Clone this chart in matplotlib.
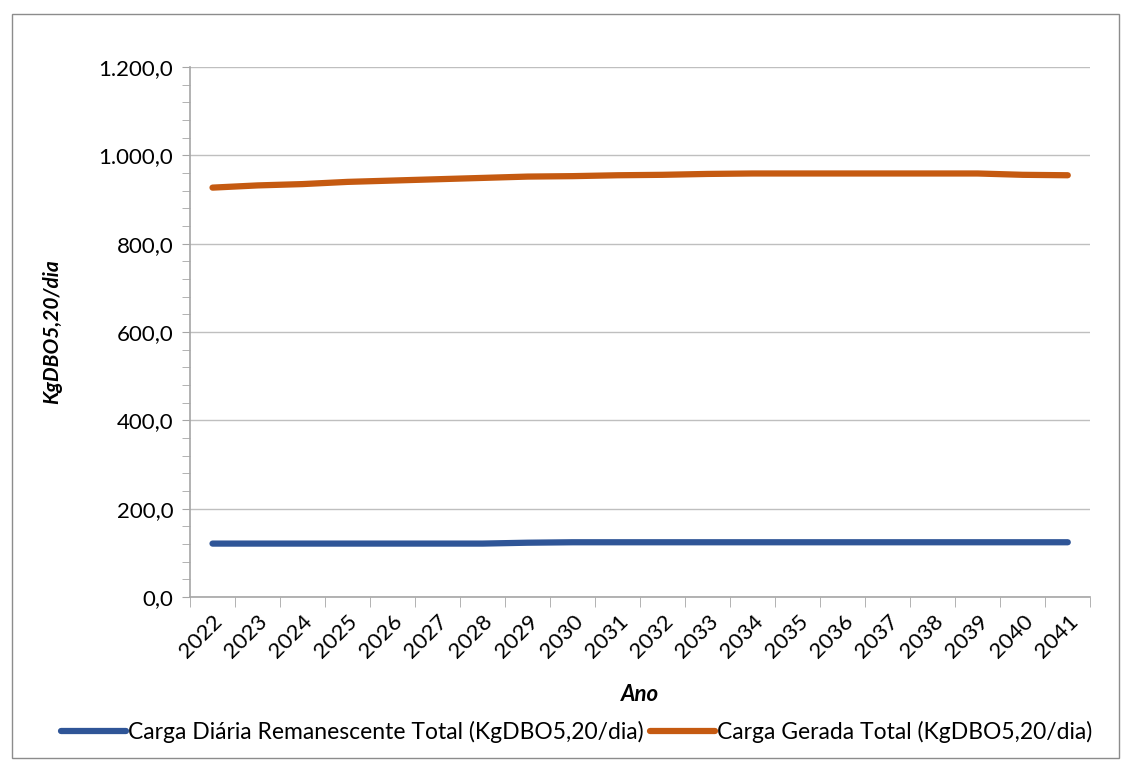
import matplotlib.pyplot as plt
from matplotlib.patches import Rectangle
from matplotlib.ticker import FixedLocator, MultipleLocator, FuncFormatter

# Dados
anos = [str(a) for a in range(2022, 2042)]
carga_remanescente = [121, 121, 121, 121, 121, 121, 121, 123, 124, 124,
                      124, 124, 124, 124, 124, 124, 124, 124, 124, 124]
carga_gerada = [927, 932, 935, 940, 943, 946, 949, 952, 953, 955,
                956, 958, 959, 959, 959, 959, 959, 959, 956, 955]

plt.rcParams['font.family'] = ['Lato', 'DejaVu Sans']

fig = plt.figure(figsize=(11.31, 7.62), dpi=100)
ax = fig.add_axes([0.168, 0.2165, 0.796, 0.6955])

x = list(range(len(anos)))
ax.plot(x, carga_remanescente, color='#2f5597', lw=4.5, solid_capstyle='round',
        label='Carga Diária Remanescente Total (KgDBO5,20/dia)')
ax.plot(x, carga_gerada, color='#c55a11', lw=4.5, solid_capstyle='round',
        label='Carga Gerada Total (KgDBO5,20/dia)')

ax.set_xlim(-0.5, len(anos) - 0.5)
ax.set_ylim(0, 1200)
ax.yaxis.set_major_locator(MultipleLocator(200))
ax.yaxis.set_minor_locator(MultipleLocator(40))
ax.yaxis.set_major_formatter(FuncFormatter(
    lambda v, p: f'{v:,.1f}'.replace(',', 'X').replace('.', ',').replace('X', '.')))

ax.set_xticks(x)
ax.set_xticklabels(anos, rotation=45, ha='right', rotation_mode='anchor', fontsize=16)
ax.xaxis.set_minor_locator(FixedLocator([i - 0.5 for i in range(len(anos) + 1)]))
ax.tick_params(axis='x', which='major', length=0, pad=10)
ax.tick_params(axis='x', which='minor', length=7, color='#a6a6a6', direction='out')
ax.tick_params(axis='y', which='both', length=6, color='#a6a6a6', direction='out',
               labelsize=16, pad=6)

ax.grid(axis='y', which='major', color='#bfbfbf', lw=1)
ax.set_axisbelow(True)
for s in ['top', 'right']:
    ax.spines[s].set_visible(False)
for s in ['left', 'bottom']:
    ax.spines[s].set_color('#a6a6a6')
    ax.spines[s].set_linewidth(1.2)

ax.set_ylabel('KgDBO5,20/dia', fontsize=15, fontweight='bold', fontstyle='italic', labelpad=26)
ax.set_xlabel('Ano', fontsize=16, fontweight='bold', fontstyle='italic', labelpad=16)

fig.legend(loc='center', bbox_to_anchor=(0.51, 0.04), ncol=2, frameon=False,
           fontsize=16.5, handlelength=2.8, handletextpad=0.1, columnspacing=0.3)

fig.patches.append(Rectangle((0.011, 0.005), 0.978, 0.977, transform=fig.transFigure,
                             fill=False, edgecolor='#8c8c8c', lw=1))

fig.savefig('out.png', dpi=100)
